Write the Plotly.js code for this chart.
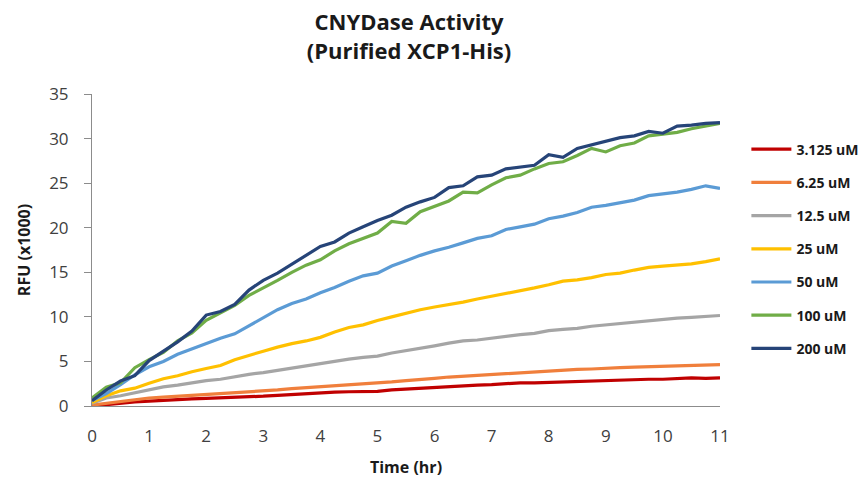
<!DOCTYPE html>
<html>
<head>
<meta charset="utf-8">
<script src="https://cdn.plot.ly/plotly-3.0.1.min.js"></script>
<style>html,body{margin:0;padding:0;background:#fff;}#chart{width:863px;height:483px;}</style>
</head>
<body>
<div id="chart"></div>
<script>
const timeHr = [0,0.25,0.5,0.75,1,1.25,1.5,1.75,2,2.25,2.5,2.75,3,3.25,3.5,3.75,4,4.25,4.5,4.75,5,5.25,5.5,5.75,6,6.25,6.5,6.75,7,7.25,7.5,7.75,8,8.25,8.5,8.75,9,9.25,9.5,9.75,10,10.25,10.5,10.75,11];

const seriesNames = ["3.125 uM","6.25 uM","12.5 uM","25 uM","50 uM","100 uM","200 uM"];

const rfu3125 = [0.0,0.15,0.35,0.45,0.55,0.65,0.7,0.8,0.85,0.9,0.95,1.05,1.1,1.2,1.3,1.4,1.5,1.55,1.6,1.6,1.65,1.8,1.9,2.0,2.1,2.2,2.25,2.35,2.4,2.5,2.6,2.6,2.65,2.7,2.8,2.85,2.9,2.95,2.95,3.0,3.0,3.05,3.15,3.1,3.15];
const rfu625 = [0.1,0.3,0.55,0.7,0.9,1.0,1.1,1.2,1.25,1.35,1.45,1.55,1.7,1.8,1.95,2.05,2.15,2.3,2.4,2.5,2.6,2.7,2.85,2.95,3.1,3.25,3.35,3.45,3.55,3.65,3.7,3.8,3.9,4.0,4.1,4.15,4.25,4.3,4.35,4.4,4.45,4.5,4.6,4.65,4.65];
const rfu125 = [0.3,0.9,1.15,1.5,1.8,2.15,2.35,2.6,2.85,3.0,3.3,3.55,3.75,4.0,4.3,4.55,4.8,5.05,5.25,5.45,5.6,5.95,6.2,6.5,6.75,7.05,7.3,7.4,7.6,7.85,8.0,8.15,8.45,8.6,8.7,8.95,9.1,9.3,9.4,9.6,9.7,9.85,9.95,10.05,10.15];
const rfu25 = [0.4,1.15,1.7,2.0,2.55,3.05,3.4,3.85,4.2,4.55,5.2,5.7,6.15,6.6,7.0,7.3,7.7,8.3,8.8,9.1,9.6,10.0,10.4,10.8,11.1,11.35,11.65,12.0,12.3,12.6,12.9,13.25,13.6,14.0,14.15,14.4,14.75,14.9,15.25,15.55,15.7,15.85,15.95,16.2,16.5];
const rfu50 = [0.6,1.4,2.4,3.5,4.4,5.0,5.8,6.4,7.0,7.6,8.1,9.0,10.0,10.8,11.5,12.0,12.7,13.3,14.0,14.6,14.9,15.7,16.3,16.9,17.4,17.8,18.3,18.8,19.1,19.8,20.1,20.4,21.0,21.3,21.7,22.3,22.5,22.8,23.1,23.6,23.8,24.0,24.3,24.7,24.4];
const rfu100 = [0.9,2.1,2.6,4.3,5.2,6.0,7.3,8.2,9.6,10.4,11.3,12.4,13.2,14.1,15.0,15.8,16.4,17.4,18.2,18.8,19.4,20.7,20.5,21.8,22.4,23.0,24.0,23.9,24.8,25.6,25.9,26.6,27.2,27.4,28.1,28.9,28.5,29.2,29.5,30.3,30.5,30.7,31.1,31.4,31.7];
const rfu200 = [0.6,1.8,2.8,3.4,5.1,6.1,7.2,8.4,10.2,10.6,11.4,13.0,14.1,14.9,15.9,16.9,17.9,18.4,19.4,20.1,20.8,21.4,22.3,22.9,23.4,24.5,24.7,25.7,25.9,26.6,26.8,27.0,28.2,27.9,28.9,29.3,29.7,30.1,30.3,30.8,30.6,31.4,31.5,31.7,31.8];

const seriesValues = [rfu3125, rfu625, rfu125, rfu25, rfu50, rfu100, rfu200];
const seriesColors = ["#C00000","#F07F3C","#A5A5A5","#FFC000","#5B9BD5","#70AD47","#264478"];

const yTicks = [0,5,10,15,20,25,30,35];
const xTicks = [0,1,2,3,4,5,6,7,8,9,10,11];

const traces = seriesNames.map((name, i) => ({
  type: "scatter",
  mode: "lines",
  name: name,
  x: timeHr,
  y: seriesValues[i],
  legendgroup: "g" + i,
  line: {color: seriesColors[i], width: 3.2}
}));

const tickFont = {family: "Open Sans, sans-serif", size: 17, color: "#404040"};

const layout = {
  width: 863,
  height: 483,
  paper_bgcolor: "#ffffff",
  plot_bgcolor: "#ffffff",
  margin: {l: 92, r: 143, t: 94, b: 77, pad: 0, autoexpand: false},
  title: {
    text: "<b>CNYDase Activity</b><br><b>(Purified XCP1-His)</b>",
    font: {family: "Open Sans, sans-serif", size: 22, color: "#1a1a1a"},
    x: 0.474, xref: "container", xanchor: "center",
    y: 0.938, yref: "container", yanchor: "middle"
  },
  xaxis: {
    range: [0, 11],
    tickvals: xTicks,
    ticktext: xTicks.map(String),
    showgrid: false, zeroline: false,
    showline: true, linecolor: "#8c8c8c", linewidth: 1,
    ticks: "",
    ticklabelstandoff: 15,
    tickfont: tickFont,
    title: {text: "<b>Time (hr)</b>", font: {family: "Open Sans, sans-serif", size: 16, color: "#1a1a1a"}, standoff: 15}
  },
  yaxis: {
    range: [0, 35],
    tickvals: yTicks,
    ticktext: yTicks.map(String),
    showgrid: false, zeroline: false,
    showline: true, linecolor: "#8c8c8c", linewidth: 1,
    ticks: "outside", ticklen: 7, tickcolor: "#8c8c8c", tickwidth: 1,
    ticklabelstandoff: 12,
    tickfont: tickFont,
    title: {text: "<b>RFU (x1000)</b>", font: {family: "Open Sans, sans-serif", size: 16, color: "#1a1a1a"}, standoff: 14}
  },
  showlegend: true,
  legend: {
    x: 1.042, xanchor: "left",
    y: 0.873, yanchor: "top",
    font: {family: "Open Sans, sans-serif", size: 14, color: "#1a1a1a", weight: "bold"},
    tracegroupgap: 12,
    itemwidth: 40,
    bgcolor: "rgba(0,0,0,0)"
  }
};

Plotly.newPlot("chart", traces, layout, {displayModeBar: false, staticPlot: true});
</script>
</body>
</html>
